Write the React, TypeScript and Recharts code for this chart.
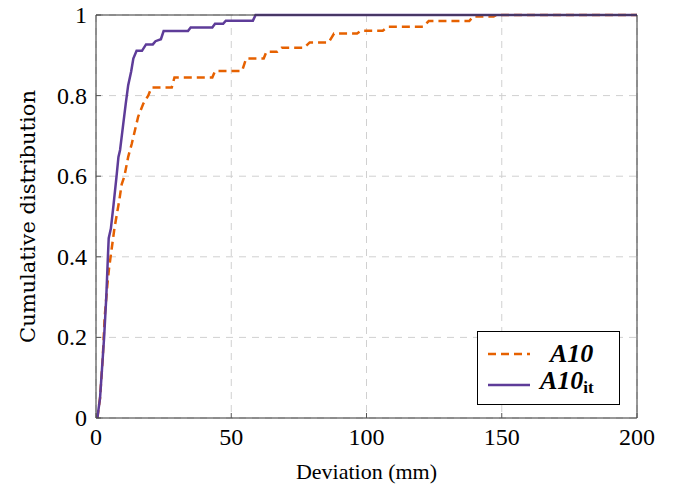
import { LineChart, Line, XAxis, YAxis, CartesianGrid, Legend } from "recharts";

const xTicks = [0, 50, 100, 150, 200];
const yTicks = [0, 0.2, 0.4, 0.6, 0.8, 1];

// A10: cumulative distribution
const a10 = [
  { x: 0.5, y: 0 }, { x: 1.5, y: 0.05 }, { x: 2.5, y: 0.15 }, { x: 3.2, y: 0.25 },
  { x: 4.2, y: 0.33 }, { x: 4.8, y: 0.37 }, { x: 5.8, y: 0.42 }, { x: 6.8, y: 0.47 },
  { x: 8.6, y: 0.54 }, { x: 9.5, y: 0.58 }, { x: 10.5, y: 0.6 }, { x: 11.9, y: 0.648 },
  { x: 13.2, y: 0.68 }, { x: 15.6, y: 0.748 }, { x: 17.5, y: 0.78 }, { x: 19.3, y: 0.8 },
  { x: 20.5, y: 0.82 }, { x: 28, y: 0.82 }, { x: 29, y: 0.845 }, { x: 43, y: 0.845 },
  { x: 44, y: 0.861 }, { x: 54, y: 0.861 }, { x: 55.5, y: 0.892 }, { x: 62, y: 0.892 },
  { x: 63, y: 0.909 }, { x: 67, y: 0.909 }, { x: 68.6, y: 0.919 }, { x: 77, y: 0.919 },
  { x: 79, y: 0.932 }, { x: 86, y: 0.932 }, { x: 88, y: 0.954 }, { x: 96.5, y: 0.954 },
  { x: 98, y: 0.961 }, { x: 106, y: 0.961 }, { x: 108, y: 0.971 }, { x: 121, y: 0.971 },
  { x: 123, y: 0.985 }, { x: 138, y: 0.985 }, { x: 139.4, y: 0.996 }, { x: 147, y: 0.996 },
  { x: 148, y: 1 }, { x: 200, y: 1 },
];

// A10_it
const a10it = [
  { x: 0.5, y: 0 }, { x: 1.5, y: 0.05 }, { x: 2.2, y: 0.12 }, { x: 3.0, y: 0.2 },
  { x: 3.8, y: 0.3 }, { x: 4.4, y: 0.4 }, { x: 4.7, y: 0.446 }, { x: 5.5, y: 0.47 },
  { x: 6.5, y: 0.53 }, { x: 7.6, y: 0.6 }, { x: 8.3, y: 0.648 }, { x: 8.9, y: 0.665 },
  { x: 10.1, y: 0.731 }, { x: 11, y: 0.78 }, { x: 11.9, y: 0.826 }, { x: 13, y: 0.86 },
  { x: 13.8, y: 0.892 }, { x: 15, y: 0.911 }, { x: 17, y: 0.911 }, { x: 18.5, y: 0.927 },
  { x: 21, y: 0.927 }, { x: 22, y: 0.935 }, { x: 24, y: 0.94 }, { x: 25, y: 0.96 },
  { x: 34, y: 0.96 }, { x: 35, y: 0.969 }, { x: 43, y: 0.969 }, { x: 44, y: 0.978 },
  { x: 47, y: 0.978 }, { x: 48, y: 0.986 }, { x: 58, y: 0.986 }, { x: 59, y: 1 },
  { x: 200, y: 1 },
];

const ORANGE = "#e66100";
const PURPLE = "#5e3c99";
const FONT = "'Liberation Serif', 'DejaVu Serif', serif";
const TICK_GAP = 10;

const fmtY = (v: number) => (v === 0 || v === 1 ? String(v) : v.toFixed(1));

function XTick(props: any) {
  const { x, y, payload } = props;
  const axisY = y - TICK_GAP;
  return (
    <g>
      <line x1={x} x2={x} y1={axisY} y2={axisY - 5} stroke="#555" strokeWidth={1} />
      <text x={x} y={y} dy={17} textAnchor="middle" style={{ fontFamily: FONT, fontSize: 24 }} fill="#000">
        {payload.value}
      </text>
    </g>
  );
}

function YTick(props: any) {
  const { x, y, payload } = props;
  const axisX = x + TICK_GAP;
  return (
    <g>
      <line x1={axisX} x2={axisX + 5} y1={y} y2={y} stroke="#555" strokeWidth={1} />
      <text x={x + 1} y={y} dy={8} textAnchor="end" style={{ fontFamily: FONT, fontSize: 24 }} fill="#000">
        {fmtY(payload.value)}
      </text>
    </g>
  );
}

function LegendBox({ payload }: any) {
  return (
    <div
      style={{
        border: "1px solid #000",
        background: "#fff",
        width: 143,
        height: 74,
        boxSizing: "border-box",
        padding: "6px 8px",
        fontFamily: FONT,
      }}
    >
      {(payload || []).map((p: any) => (
        <div key={p.value} style={{ display: "flex", alignItems: "center", height: 31 }}>
          <svg width={46} height={10}>
            <line
              x1={2}
              x2={44}
              y1={5}
              y2={5}
              stroke={p.color}
              strokeWidth={2.5}
              strokeDasharray={p.value === "A10" ? "8 5" : undefined}
            />
          </svg>
          <span
            style={{
              fontWeight: "bold",
              fontStyle: "italic",
              fontSize: 26,
              marginLeft: p.value === "A10" ? 18 : 8,
              lineHeight: "28px",
            }}
          >
            A10
            {p.value !== "A10" && (
              <sub style={{ fontStyle: "normal", fontSize: 17, verticalAlign: -4 }}>it</sub>
            )}
          </span>
        </div>
      ))}
    </div>
  );
}

export default function App() {
  return (
    <div style={{ position: "absolute", left: 0, top: 0, width: 673, height: 493, background: "#fff" }}>
      <LineChart width={673} height={493} margin={{ top: 15, right: 36, left: 0, bottom: 0 }}>
        <CartesianGrid stroke="#d0d0d0" strokeDasharray="7 6" />
        <XAxis
          type="number"
          dataKey="x"
          domain={[0, 200]}
          ticks={xTicks}
          height={75}
          tickSize={0}
          tickMargin={TICK_GAP}
          tickLine={false}
          axisLine={{ stroke: "#333" }}
          tick={<XTick />}
          label={{
            value: "Deviation (mm)",
            position: "insideBottom",
            offset: 14,
            fontFamily: FONT,
            fontSize: 22,
            fill: "#000",
          }}
        />
        <XAxis
          xAxisId="top"
          orientation="top"
          type="number"
          domain={[0, 200]}
          ticks={xTicks}
          mirror
          tick={false}
          tickSize={5}
          tickLine={{ stroke: "#555" }}
          axisLine={{ stroke: "#333" }}
        />
        <YAxis
          type="number"
          domain={[0, 1]}
          ticks={yTicks}
          width={96}
          tickSize={0}
          tickMargin={TICK_GAP}
          tickLine={false}
          axisLine={{ stroke: "#333" }}
          tick={<YTick />}
          label={{
            value: "Cumulative distribution",
            angle: -90,
            position: "insideLeft",
            offset: 28,
            fontFamily: "'DejaVu Serif', serif",
            fontSize: 21,
            fill: "#000",
            textAnchor: "middle",
          }}
        />
        <YAxis
          yAxisId="right"
          orientation="right"
          type="number"
          domain={[0, 1]}
          ticks={yTicks}
          mirror
          tick={false}
          tickSize={5}
          tickLine={{ stroke: "#555" }}
          axisLine={{ stroke: "#333" }}
        />
        <Line
          data={a10}
          dataKey="y"
          name="A10"
          type="linear"
          stroke={ORANGE}
          strokeWidth={2.5}
          strokeDasharray="8 5"
          dot={false}
          isAnimationActive={false}
        />
        <Line
          data={a10it}
          dataKey="y"
          name="A10it"
          type="linear"
          stroke={PURPLE}
          strokeWidth={2.5}
          dot={false}
          isAnimationActive={false}
        />
        <Legend
          layout="vertical"
          align="center"
          verticalAlign="middle"
          content={<LegendBox />}
          wrapperStyle={{ position: "absolute", left: 477, top: 331, width: 143, height: 74 }}
        />
      </LineChart>
    </div>
  );
}
